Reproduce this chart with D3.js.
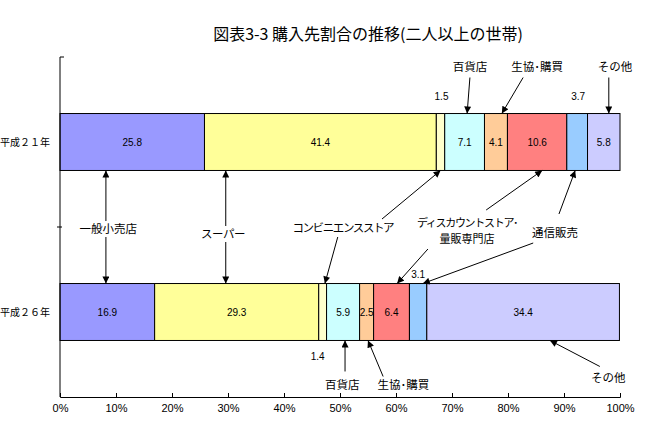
<!DOCTYPE html>
<html>
<head>
<meta charset="utf-8">
<script src="https://cdn.jsdelivr.net/npm/d3@7"></script>
<style>
body { margin: 0; background: #fff; }
text { font-family: "Noto Sans CJK JP", sans-serif; }
</style>
</head>
<body>
<div id="canvas"></div>
<script>
const years = ["平成２１年", "平成２６年"];
const stores = ["一般小売店", "スーパー", "コンビニエンスストア", "百貨店", "生協･購買", "ディスカウントストア･量販専門店", "通信販売", "その他"];
const h21 = [25.8, 41.4, 1.5, 7.1, 4.1, 10.6, 3.7, 5.8];
const h26 = [16.9, 29.3, 1.4, 5.9, 2.5, 6.4, 3.1, 34.4];
const xTicks = [0, 10, 20, 30, 40, 50, 60, 70, 80, 90, 100];

const colors = ["#9999ff", "#ffff99", "#ffffcc", "#ccffff", "#ffcc99", "#ff8080", "#99ccff", "#ccccff"];

var margin = {top: 57, right: 43, bottom: 47, left: 60},
width = 663 - margin.left - margin.right,
height = 444 - margin.top - margin.bottom;

const svg = d3.select("#canvas")
    .append("svg")
        .attr("width", 663)
        .attr("height", 444);

svg.append("defs").append("marker")
    .attr("id", "head")
    .attr("viewBox", "0 0 10 10")
    .attr("refX", 10).attr("refY", 5)
    .attr("markerUnits", "userSpaceOnUse")
    .attr("markerWidth", 8).attr("markerHeight", 7)
    .attr("orient", "auto")
    .append("path").attr("d", "M0,0L10,5L0,10Z").attr("fill", "#000");

svg.append("text")
    .attr("x", 368).attr("y", 40)
    .attr("text-anchor", "middle")
    .style("font-size", "16px")
    .text("図表3-3  購入先割合の推移(二人以上の世帯)");

const canvas = svg.append("g")
    .attr("transform", "translate(" + margin.left + "," + margin.top + ")");

const xScale = d3.scaleLinear().domain([0, 100]).range([0, width]);
const yScale = d3.scaleBand().domain(years).range([0, height])
    .paddingInner(0.665).paddingOuter(0.3325);

// stacked rows
const rows = [h21, h26].map((vals, r) => {
    let acc = 0;
    return vals.map((v, i) => {
        const s = {row: years[r], r: r, i: i, v: v, x0: acc, x1: acc + v};
        acc += v;
        return s;
    });
});
const segs = rows.flat();

canvas.selectAll("rect.seg")
    .data(segs)
    .join("rect")
        .attr("class", "seg")
        .attr("x", d => xScale(d.x0))
        .attr("y", d => yScale(d.row))
        .attr("width", d => xScale(d.x1) - xScale(d.x0))
        .attr("height", yScale.bandwidth())
        .attr("fill", d => colors[d.i])
        .attr("stroke", "#000")
        .attr("stroke-width", 1);

// value labels: some sit outside the bar
const outside = {"0-2": [1, -17], "0-6": [1, -17], "1-2": [-5, 16], "1-6": [0, -9]};
canvas.selectAll("text.val")
    .data(segs)
    .join("text")
        .attr("class", "val")
        .attr("x", d => xScale((d.x0 + d.x1) / 2) + (outside[d.r + "-" + d.i] ? outside[d.r + "-" + d.i][0] : 0))
        .attr("y", d => {
            const o = outside[d.r + "-" + d.i];
            const top = yScale(d.row), bot = top + yScale.bandwidth();
            if (!o) return top + yScale.bandwidth() / 2;
            return o[1] < 0 ? top + o[1] : bot + o[1];
        })
        .attr("dy", "0.35em")
        .attr("text-anchor", "middle")
        .style("font-family", "'Liberation Sans', Arial, sans-serif")
        .style("font-size", "10px")
        .text(d => d.v.toFixed(1));

// x axis
canvas.append("g")
    .attr("transform", "translate(0," + height + ")")
    .call(d3.axisBottom(xScale).tickValues(xTicks).tickFormat(d => d + "%")
        .tickSize(-4).tickPadding(7))
    .call(g => g.select(".domain").attr("stroke", "#000"))
    .call(g => g.selectAll("text")
        .style("font-family", "'Liberation Sans Narrow', 'Liberation Sans', Arial, sans-serif")
        .style("font-size", "11px"));

// y axis (category boundaries)
const yb = d3.scaleLinear().domain([0, years.length]).range([0, height]);
canvas.append("line")
    .attr("x1", 0).attr("x2", 0).attr("y1", yb(0)).attr("y2", yb(2))
    .attr("stroke", "#000");
canvas.selectAll("line.ytick")
    .data([0, 1])
    .join("line")
        .attr("class", "ytick")
        .attr("x1", d => d === 0 ? 0 : -3).attr("x2", d => d === 0 ? 4 : 2)
        .attr("y1", d => yb(d)).attr("y2", d => yb(d))
        .attr("stroke", "#000");

canvas.selectAll("text.cat")
    .data(years)
    .join("text")
        .attr("class", "cat")
        .attr("x", -10)
        .attr("y", d => yScale(d) + yScale.bandwidth() / 2)
        .attr("dy", "0.35em")
        .attr("text-anchor", "end")
        .style("font-size", "10px")
        .text(d => d);

// annotations
const bw = yScale.bandwidth();
const anchors = {
    t0: yScale(years[0]), b0: yScale(years[0]) + bw,
    t1: yScale(years[1]), b1: yScale(years[1]) + bw
};
anchors.mid = (anchors.b0 + anchors.t1) / 2;
const Y = a => anchors[a[0]] + a[1];

// each text line is its own element; ls = letter-spacing per line
const notes = [
    {lines: ["一般小売店"], x: 8.6, y: ["mid", 2], ls: [0], arrows: [[8.2, ["mid", -6], 8.2, ["b0", 0]], [8.2, ["mid", 10], 8.2, ["t1", 0]]]},
    {lines: ["スーパー"], x: 29.1, y: ["mid", 7], ls: [-0.5], arrows: [[29.6, ["mid", -1], 29.6, ["b0", 0]], [29.6, ["mid", 15], 29.6, ["t1", 0]]]},
    {lines: ["コンビニエンスストア"], x: 50.5, y: ["mid", 1], ls: [-1.4], arrows: [[57.5, ["mid", -8], 67.95, ["b0", 0]], [49.6, ["mid", 10], 47.3, ["t1", 0]]]},
    {lines: ["ディスカウントストア･", "量販専門店"], x: 72.7, y: ["mid", -4], ls: [-1.3, 0], fs: 11, arrows: [[76.1, ["mid", -17], 86.1, ["b0", 0]], [65.7, ["mid", 22], 60.2, ["t1", 0]]]},
    {lines: ["通信販売"], x: 88.4, y: ["mid", 6], ls: [0], arrows: [[89.1, ["mid", -13], 92.0, ["b0", 0]], [84.5, ["mid", 16], 64.8, ["t1", 0]]]},
    {lines: ["百貨店"], x: 73.2, y: ["t0", -47], ls: [0], arrows: [[73.2, ["t0", -36], 72.7, ["t0", 0]]]},
    {lines: ["生協･購買"], x: 85.2, y: ["t0", -47], ls: [0], arrows: [[82.7, ["t0", -36], 78.9, ["t0", 0]]]},
    {lines: ["その他"], x: 99.1, y: ["t0", -47], ls: [0], arrows: [[98.0, ["t0", -36], 98.0, ["t0", 0]]]},
    {lines: ["百貨店"], x: 50.4, y: ["b1", 44], ls: [0], arrows: [[50.9, ["b1", 31], 50.9, ["b1", 0]]]},
    {lines: ["生協･購買"], x: 61.3, y: ["b1", 44], ls: [0], arrows: [[57.7, ["b1", 36], 55.0, ["b1", 0]]]},
    {lines: ["その他"], x: 97.9, y: ["b1", 37], ls: [0], arrows: [[96.4, ["b1", 26], 87.5, ["b1", 0]]]}
];

canvas.selectAll("line.arrow")
    .data(notes.flatMap(n => n.arrows))
    .join("line")
        .attr("class", "arrow")
        .attr("x1", d => xScale(d[0])).attr("y1", d => Y(d[1]))
        .attr("x2", d => xScale(d[2])).attr("y2", d => Y(d[3]))
        .attr("stroke", "#000")
        .attr("stroke-width", 1)
        .attr("marker-end", "url(#head)");

const noteLines = notes.flatMap(n => n.lines.map((l, k) => ({text: l, x: n.x, y: Y(n.y) + k * 16, ls: n.ls[k], fs: n.fs || 11.5})));
canvas.selectAll("text.note")
    .data(noteLines)
    .join("text")
        .attr("class", "note")
        .attr("x", d => xScale(d.x))
        .attr("y", d => d.y)
        .attr("dy", "0.35em")
        .attr("text-anchor", "middle")
        .style("font-size", d => d.fs + "px")
        .style("letter-spacing", d => d.ls + "px")
        .text(d => d.text);
</script>
</body>
</html>
